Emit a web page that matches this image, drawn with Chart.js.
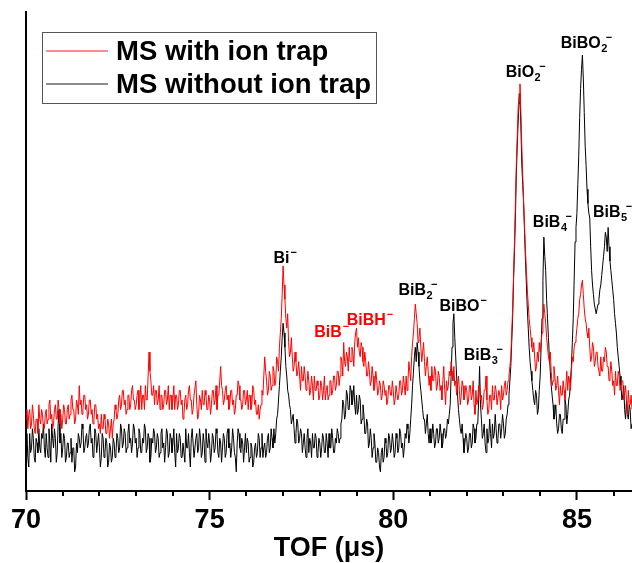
<!DOCTYPE html>
<html><head><meta charset="utf-8">
<script src="https://cdn.jsdelivr.net/npm/chart.js@4"></script>
<style>html,body{margin:0;padding:0;background:#fff}#wrap{width:632px;height:563px}</style>
</head><body><div id="wrap"><canvas id="c" width="632" height="563"></canvas></div>
<script>
// ---- data ----
const tofStart = 70;
const tofStep = 0.025;
const seriesNames = ['MS with ion trap', 'MS without ion trap'];
const majorTicks = [70, 75, 80, 85];

// red trace, one row per microsecond (70 ... 86.5)
const withTrap = [
15,17,13,16,17,13,14,18,16,13,12,15,15,12,18,15,14,17,16,13,13,16,17,14,15,18,19,15,16,13,14,17,18,15,15,19,17,14,16,13,
15,18,17,14,14,17,18,15,16,19,20,17,17,14,15,19,18,16,22,18,19,16,17,20,20,17,18,15,16,19,19,16,17,14,15,18,18,15,16,13,
14,12,16,13,13,16,15,12,12,15,14,11,13,15,11,14,15,18,17,15,16,19,20,17,18,21,21,18,19,16,17,20,20,17,18,21,22,19,19,17,
18,20,21,17,19,22,17,20,20,17,22,19,19,24,29,25,23,20,20,22,18,21,21,18,19,22,17,20,20,17,18,21,21,18,19,22,17,20,20,17,
19,22,17,20,20,17,18,21,21,18,19,15,16,19,20,17,18,21,22,19,19,16,17,20,20,23,18,15,16,20,19,17,21,18,18,21,20,17,17,20,
19,16,18,21,21,18,19,22,17,20,20,23,26,22,21,18,19,21,22,19,20,17,18,21,21,18,19,16,17,20,20,23,22,19,19,17,18,21,21,18,
19,21,17,20,20,17,18,22,21,18,19,16,16,18,15,17,18,21,20,24,28,25,23,20,21,25,24,21,22,26,25,22,23,28,27,25,30,33,36,41,
47,43,40,36,34,37,31,28,29,32,28,25,26,29,27,24,25,27,24,21,26,23,23,26,24,21,22,25,23,20,21,24,22,19,24,21,21,23,22,19,
20,23,22,19,21,24,19,21,22,19,20,23,23,20,21,24,24,21,22,25,25,22,24,28,27,24,31,27,26,29,28,25,30,27,27,30,29,26,31,33,
34,30,32,29,28,31,30,27,26,29,27,24,24,27,25,22,23,26,24,21,22,25,23,20,21,23,22,19,20,23,22,20,21,18,19,22,22,20,20,23,
21,18,19,22,22,19,20,23,23,20,21,24,22,20,24,21,23,27,25,23,28,31,33,36,39,37,35,31,32,34,30,27,29,31,27,24,26,28,25,22,
24,21,26,23,23,26,25,21,22,25,24,21,22,19,23,26,21,18,23,21,22,25,24,27,25,23,26,22,23,20,22,24,21,18,20,23,22,19,20,22,
21,18,19,22,22,19,20,23,18,16,21,18,19,22,22,19,20,17,18,21,21,24,19,16,17,20,20,17,22,19,19,22,21,18,18,21,20,17,22,19,
20,22,23,20,21,23,24,26,28,33,38,45,52,60,68,74,80,83,85,79,72,66,60,55,50,46,42,39,36,34,32,30,29,31,28,25,26,29,27,31,
29,31,33,36,39,37,35,32,30,28,27,29,25,22,23,26,24,21,22,24,21,18,22,20,20,23,21,19,22,25,21,24,23,21,25,28,27,30,31,32,
34,36,37,40,41,43,44,41,38,36,35,33,32,34,30,27,28,31,30,26,27,29,29,26,26,24,28,25,25,28,27,30,29,26,26,23,24,27,25,22,
23,20,25,22,22,25,24,21,21,23,23,19,20,22,19,16,21,18,18,20,17
];

// black trace, one row per microsecond (70 ... 86.5)
const withoutTrap = [
10,12,7,5,12,8,9,13,11,7,6,11,10,8,13,9,8,12,11,14,9,7,12,9,7,13,10,6,14,11,9,13,11,6,8,14,17,10,12,7,
9,12,11,6,7,10,10,7,8,11,6,9,9,4,5,10,8,12,11,9,10,14,13,8,9,11,12,9,10,13,14,10,11,7,8,13,12,8,10,12,
9,5,7,12,11,7,8,11,10,5,6,10,9,6,7,11,10,7,8,12,11,8,9,14,13,9,10,13,12,8,9,12,14,10,11,8,10,14,13,10,
11,7,9,13,12,8,8,11,10,14,13,8,9,12,11,6,7,11,10,13,12,8,9,12,11,7,8,12,13,9,10,6,9,13,12,7,8,12,11,8,
10,13,8,5,12,8,9,12,11,7,7,10,10,6,13,9,9,12,8,5,11,13,10,7,7,11,12,8,9,13,11,7,8,12,10,6,13,10,9,12,
10,6,8,12,11,8,9,13,12,8,7,11,10,6,9,12,11,7,8,12,13,9,10,7,9,13,11,8,7,4,10,13,12,9,8,11,10,6,9,12,
8,11,10,6,7,10,9,5,6,9,10,7,8,12,11,7,9,12,7,9,10,7,8,11,12,8,9,13,11,9,13,10,12,15,16,19,22,25,28,32,
35,33,30,26,24,21,20,18,17,14,15,16,13,10,12,15,14,10,11,13,12,8,10,12,9,7,11,13,8,11,10,7,12,9,9,12,11,7,8,11,
10,7,9,12,11,8,8,12,10,7,12,9,9,13,11,8,8,11,10,13,12,10,11,14,15,19,18,15,16,21,20,17,17,22,21,18,19,22,18,16,
20,16,17,20,19,14,15,18,16,12,12,15,14,9,10,13,11,7,9,12,10,6,6,9,8,5,4,8,9,6,7,11,10,7,8,12,11,8,9,12,
10,7,8,12,11,8,9,13,12,9,10,7,9,12,11,14,13,10,12,15,18,22,25,28,30,27,31,29,26,23,21,19,17,15,15,12,14,16,12,10,
13,10,11,14,12,9,10,13,13,10,11,14,12,9,10,13,13,11,12,15,14,16,18,24,30,35,37,32,28,24,20,17,15,13,12,14,11,8,10,12,
11,8,9,12,12,9,10,14,13,10,11,14,14,19,26,18,15,11,12,14,10,8,13,10,11,15,12,9,14,11,12,16,13,10,11,14,14,11,13,16,
14,11,12,15,16,18,20,23,26,31,36,44,50,57,66,72,77,81,83,76,68,64,60,54,48,43,38,34,30,27,25,23,21,19,18,21,20,16,17,21,
24,30,36,44,53,49,46,40,36,32,28,25,22,20,18,15,16,18,14,12,13,16,16,13,12,15,15,19,18,14,16,19,20,23,26,31,36,44,52,55,
58,64,70,78,84,88,91,86,79,72,68,63,60,58,57,51,46,43,41,39,38,37,38,39,40,42,43,45,47,49,51,54,53,50,55,51,48,46,44,42,
40,37,35,33,30,28,26,24,22,19,20,22,17,15,19,16,15,18,17,13,14
];

// peak annotations: name, subscript, anchor [TOF, intensity] of text baseline-left
const peakNames = ['Bi', 'BiB', 'BiBH', 'BiB', 'BiBO', 'BiB', 'BiO', 'BiBO', 'BiB', 'BiB'];
const peakSubs  = ['',   '',    '',     '2',   '',     '3',   '2',   '2',    '4',   '5'];
const peakTof   = [76.74, 77.85, 78.73, 80.14, 81.26, 81.92, 83.06, 84.56, 83.80, 85.44];
const peakLevel = [47.6, 32.2, 34.7, 40.9, 37.6, 27.3, 86.4, 92.5, 55.1, 57.2];
const peakSeries = [1, 0, 0, 1, 1, 1, 1, 1, 1, 1];

// ---- build ----
const tof = withTrap.map((_, i) => +(tofStart + i * tofStep).toFixed(3));
const FF = '"Liberation Sans", Arial, Helvetica, sans-serif';
const RED = '#ff0000', BLACK = '#000000';
const labelColors = [RED, BLACK];

const minorTicksPlugin = {
  id: 'minorTicks',
  afterDraw(chart) {
    const ctx = chart.ctx, xs = chart.scales.x, y0 = chart.chartArea.bottom;
    ctx.save();
    ctx.strokeStyle = '#000'; ctx.lineWidth = 2;
    for (let v = Math.ceil(xs.min); v <= xs.max; v++) {
      if (majorTicks.includes(v)) continue;
      const px = Math.round(xs.getPixelForValue(v));
      ctx.beginPath(); ctx.moveTo(px, y0); ctx.lineTo(px, y0 + 5); ctx.stroke();
    }
    ctx.restore();
  }
};

const legendPlugin = {
  id: 'boxLegend',
  afterDraw(chart) {
    const ctx = chart.ctx;
    ctx.save();
    ctx.strokeStyle = '#555'; ctx.lineWidth = 1;
    ctx.strokeRect(42.5, 32.5, 334, 71);
    const rows = [51, 84];
    chart.data.datasets.forEach((ds, i) => {
      ctx.globalAlpha = 0.6;
      ctx.strokeStyle = ds.borderColor; ctx.lineWidth = 1.5;
      ctx.beginPath(); ctx.moveTo(46, rows[i]); ctx.lineTo(108, rows[i]); ctx.stroke();
      ctx.globalAlpha = 1;
      ctx.fillStyle = '#000';
      ctx.font = 'bold 27.5px ' + FF;
      ctx.textBaseline = 'middle'; ctx.textAlign = 'left';
      ctx.fillText(ds.label, 116, rows[i] + 1);
    });
    ctx.restore();
  }
};

const peakPlugin = {
  id: 'peakLabels',
  afterDatasetsDraw(chart) {
    const ctx = chart.ctx, xs = chart.scales.x, ys = chart.scales.y;
    ctx.save();
    ctx.textAlign = 'left'; ctx.textBaseline = 'alphabetic';
    peakNames.forEach((name, i) => {
      const x = xs.getPixelForValue(peakTof[i]);
      const y = ys.getPixelForValue(peakLevel[i]);
      ctx.fillStyle = labelColors[peakSeries[i] === 0 ? 0 : 1];
      ctx.font = 'bold 16px ' + FF;
      ctx.fillText(name, x, y);
      let sx = x + ctx.measureText(name).width + 0.5;
      ctx.font = 'bold 11px ' + FF;
      if (peakSubs[i]) {
        ctx.fillText(peakSubs[i], sx, y + 4);
        sx += ctx.measureText(peakSubs[i]).width * 0.75;
      } else {
        sx += 0.5;
      }
      ctx.fillText('\u2212', sx, y - 7);
    });
    ctx.restore();
  }
};

new Chart(document.getElementById('c').getContext('2d'), {
  type: 'line',
  data: {
    datasets: [
      { label: seriesNames[0], data: withTrap.map((v, i) => ({ x: tof[i], y: v })),
        borderColor: RED, borderWidth: 1, pointRadius: 0, tension: 0 },
      { label: seriesNames[1], data: withoutTrap.map((v, i) => ({ x: tof[i], y: v })),
        borderColor: BLACK, borderWidth: 1, pointRadius: 0, tension: 0 }
    ]
  },
  options: {
    responsive: false, animation: false,
    layout: { padding: { left: 26, right: 0, top: 12, bottom: 7 } },
    plugins: { legend: { display: false }, tooltip: { enabled: false } },
    scales: {
      x: {
        type: 'linear', min: 70, max: 86.5,
        afterFit: s => { s.paddingRight = 0; },
        ticks: {
          stepSize: 1, autoSkip: false, maxRotation: 0, padding: 7, color: '#000',
          font: { family: FF, size: 27, weight: 'bold', lineHeight: 1.0 },
          callback: v => (majorTicks.includes(v) ? String(v) : '')
        },
        grid: {
          display: true, drawOnChartArea: false, drawTicks: true, tickLength: 9, tickWidth: 2,
          tickColor: c => (c.tick && majorTicks.includes(c.tick.value) ? '#000' : 'rgba(0,0,0,0)')
        },
        border: { display: true, color: '#000', width: 2 },
        title: { display: true, text: 'TOF (\u03bcs)', color: '#000',
          font: { family: FF, size: 27, weight: 'bold', lineHeight: 0.556 }, padding: { top: 0, bottom: 0 } }
      },
      y: {
        min: 0, max: 100,
        ticks: { display: false },
        grid: { display: false, drawTicks: false },
        border: { display: true, color: '#000', width: 2 }
      }
    }
  },
  plugins: [minorTicksPlugin, legendPlugin, peakPlugin]
});
</script></body></html>
